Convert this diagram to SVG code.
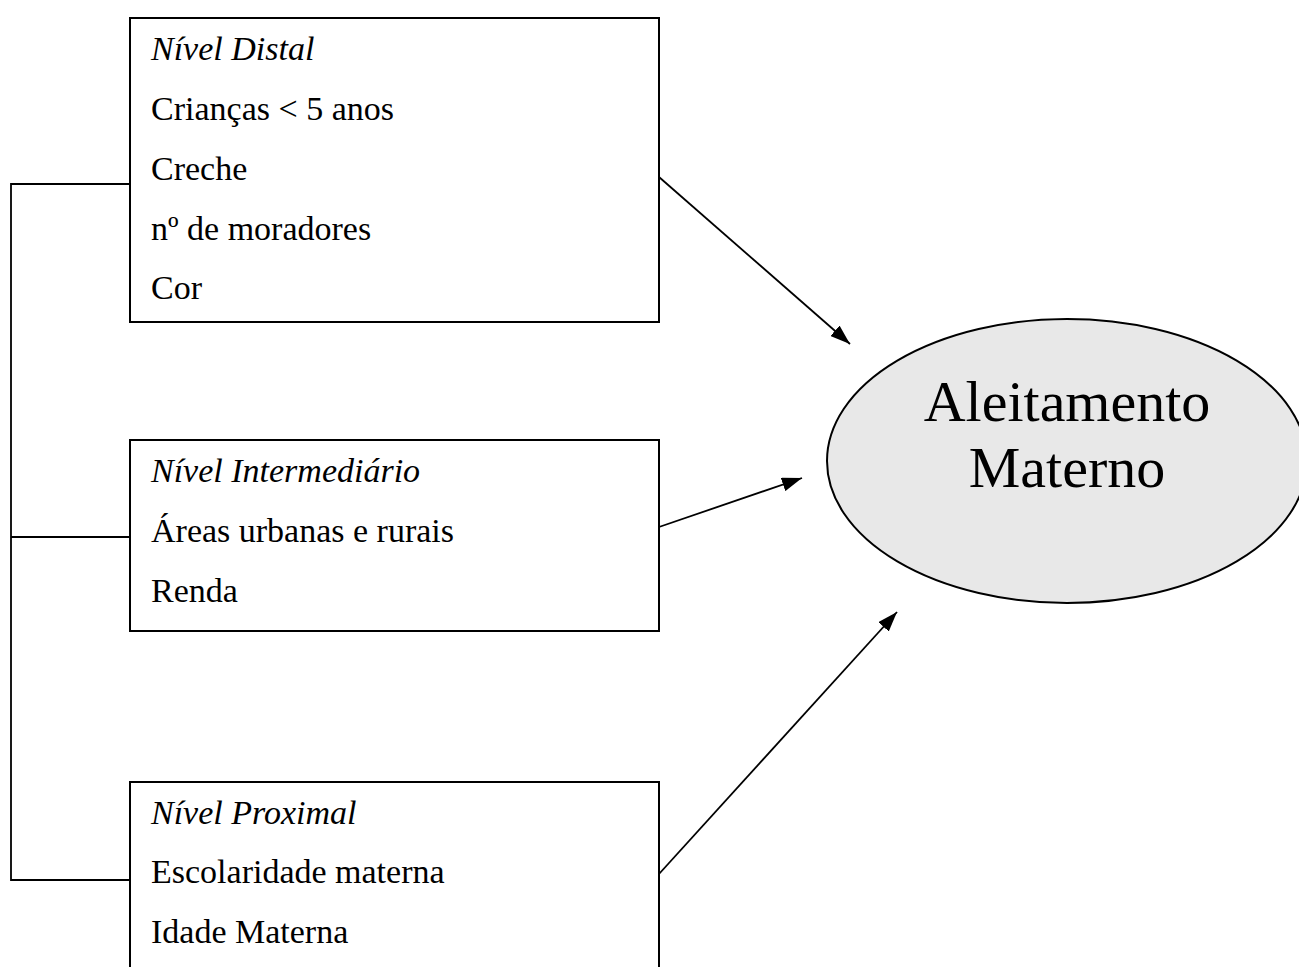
<svg xmlns="http://www.w3.org/2000/svg" width="1299" height="967" viewBox="0 0 1299 967">
<style>
.box{fill:#fff;stroke:#000;stroke-width:2}
.t{font-family:"Liberation Serif","Times New Roman",serif;font-size:34px;fill:#000}
.h{font-style:italic}
.big{font-family:"Liberation Serif","Times New Roman",serif;font-size:58px;fill:#000;text-anchor:middle}
.ln{stroke:#000;stroke-width:1.8;fill:none}
</style>
<defs>
<marker id="a2" viewBox="0 0 20 14" refX="20" refY="7" markerWidth="20" markerHeight="14" markerUnits="userSpaceOnUse" orient="auto">
<path d="M0,0 L20,7 L0,14 z" fill="#000"/>
</marker>
</defs>
<rect width="1299" height="967" fill="#fff"/>
<g id="connectors">
<path class="ln" d="M133,184 H11 V880 H130"/>
<path class="ln" d="M11,537 H130"/>
<line class="ln" x1="659" y1="177" x2="850" y2="344" marker-end="url(#a2)"/>
<line class="ln" x1="659" y1="527" x2="802" y2="478" marker-end="url(#a2)"/>
<line class="ln" x1="659" y1="874" x2="897" y2="612" marker-end="url(#a2)"/>
</g>
<g id="distal">
<rect class="box" x="130" y="18" width="529" height="304"/>
<text class="t h" x="151" y="60">Nível Distal</text>
<text class="t" x="151" y="120">Crianças &lt; 5 anos</text>
<text class="t" x="151" y="180">Creche</text>
<text class="t" x="151" y="240">nº de moradores</text>
<text class="t" x="151" y="299">Cor</text>
</g>
<g id="intermediario">
<rect class="box" x="130" y="440" width="529" height="191"/>
<text class="t h" x="151" y="482">Nível Intermediário</text>
<text class="t" x="151" y="542">Áreas urbanas e rurais</text>
<text class="t" x="151" y="602">Renda</text>
</g>
<g id="proximal">
<rect class="box" x="130" y="782" width="529" height="200"/>
<text class="t h" x="151" y="824">Nível Proximal</text>
<text class="t" x="151" y="883">Escolaridade materna</text>
<text class="t" x="151" y="943">Idade Materna</text>
</g>
<g id="aleitamento">
<ellipse cx="1067" cy="461" rx="240" ry="142" fill="#e8e8e8" stroke="#000" stroke-width="2"/>
<text class="big" x="1067" y="421">Aleitamento</text>
<text class="big" x="1067" y="487">Materno</text>
</g>
</svg>
